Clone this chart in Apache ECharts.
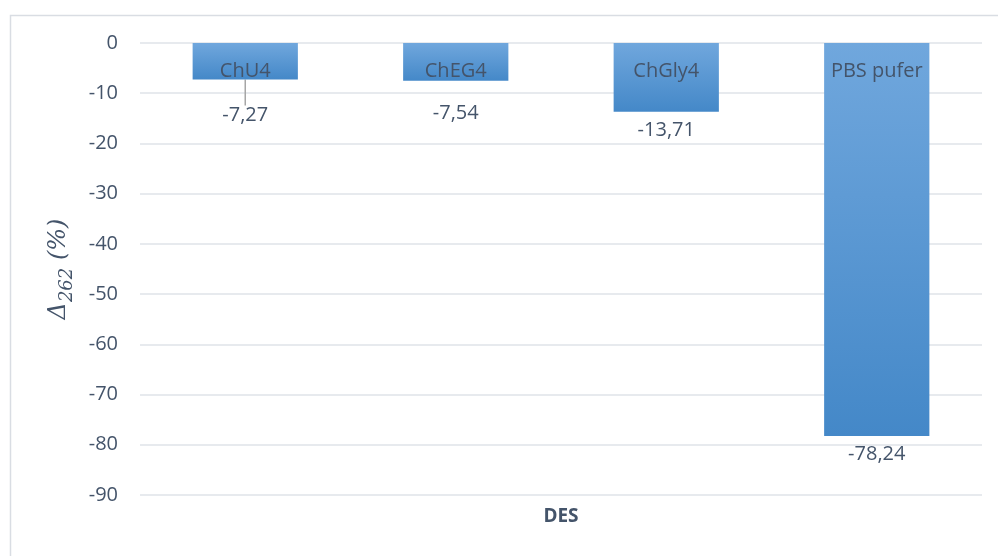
<!DOCTYPE html>
<html>
<head>
<meta charset="utf-8">
<script src="https://cdn.jsdelivr.net/npm/echarts@6/dist/echarts.min.js"></script>
<style>
  html, body { margin: 0; padding: 0; background: #fff; }
  #chart { width: 998px; height: 556px; }
</style>
</head>
<body>
<div id="chart"></div>
<script>
// Change of absorbance at 262 nm for each medium
const categories = ['ChU4', 'ChEG4', 'ChGly4', 'PBS pufer'];
const delta262 = [-7.27, -7.54, -13.71, -78.24];
const yTicks = { min: -90, max: 0, step: 10 };

const textColor = '#44546A';
const font = '"Open Sans", "Noto Sans", sans-serif';

const chart = echarts.init(document.getElementById('chart'), null, { renderer: 'canvas' });

const barGradient = new echarts.graphic.LinearGradient(0, 0, 0, 1, [
  { offset: 0, color: '#70A7DD' },
  { offset: 1, color: '#4488C8' }
]);

chart.setOption({
  animation: false,
  backgroundColor: '#fff',
  textStyle: { fontFamily: font },
  graphic: [{
    type: 'rect',
    left: 8, top: 13,
    shape: { width: 1100, height: 700 },
    style: { fill: 'none', stroke: '#D9DDE3', lineWidth: 1.5 },
    silent: true
  }],
  grid: { left: 140, right: 16, top: 43, bottom: 61 },
  xAxis: {
    type: 'category',
    data: categories,
    axisLine: { show: false },
    axisTick: { show: false },
    axisLabel: { show: false },
    name: 'DES',
    nameLocation: 'middle',
    nameGap: 12,
    nameTextStyle: { color: textColor, fontSize: 19, fontWeight: 'bold', fontFamily: font, verticalAlign: 'top' }
  },
  yAxis: {
    type: 'value',
    min: yTicks.min, max: yTicks.max, interval: yTicks.step,
    axisLine: { show: false },
    axisTick: { show: false },
    axisLabel: { color: textColor, fontSize: 20, margin: 22, fontFamily: font },
    splitLine: { lineStyle: { color: '#DFE3E9', width: 1.5 } },
    name: '{d|Δ}{s|262}{p| (%)}',
    nameLocation: 'middle',
    nameRotate: 90,
    nameGap: 64,
    nameTextStyle: {
      rich: {
        d: { fontFamily: '"DejaVu Serif", serif', fontStyle: 'italic', fontSize: 24, color: textColor },
        s: { fontFamily: '"DejaVu Serif", serif', fontStyle: 'italic', fontSize: 18, color: textColor, padding: [16, 0, 0, 0] },
        p: { fontFamily: '"DejaVu Serif", serif', fontStyle: 'italic', fontSize: 24, color: textColor }
      }
    }
  },
  series: [
    {
      // bars with the medium name drawn near the zero line
      type: 'bar',
      data: delta262,
      barWidth: '50%',
      barGap: '-100%',
      itemStyle: { color: barGradient },
      label: {
        show: true,
        position: 'insideTop',
        distance: 18,
        color: textColor,
        fontSize: 20,
        fontFamily: font,
        formatter: p => categories[p.dataIndex]
      }
    },
    {
      // value labels under each bar
      type: 'bar',
      data: delta262.map((v, i) => i === 0 ? { value: v, labelLine: { show: true } } : v),
      barWidth: '50%',
      barGap: '-100%',
      itemStyle: { color: 'rgba(0,0,0,0)' },
      silent: true,
      label: {
        show: true,
        position: 'bottom',
        distance: 8,
        color: textColor,
        fontSize: 20,
        fontFamily: font,
        formatter: p => p.value.toFixed(2).replace('.', ',')
      },
      labelLine: { show: false, lineStyle: { color: '#A6A6A6', width: 1.5 } },
      labelLayout: p => p.dataIndex === 0 ? { dy: 18 } : (p.dataIndex === 1 ? { dy: 14 } : {})
    }
  ]
});
</script>
</body>
</html>
